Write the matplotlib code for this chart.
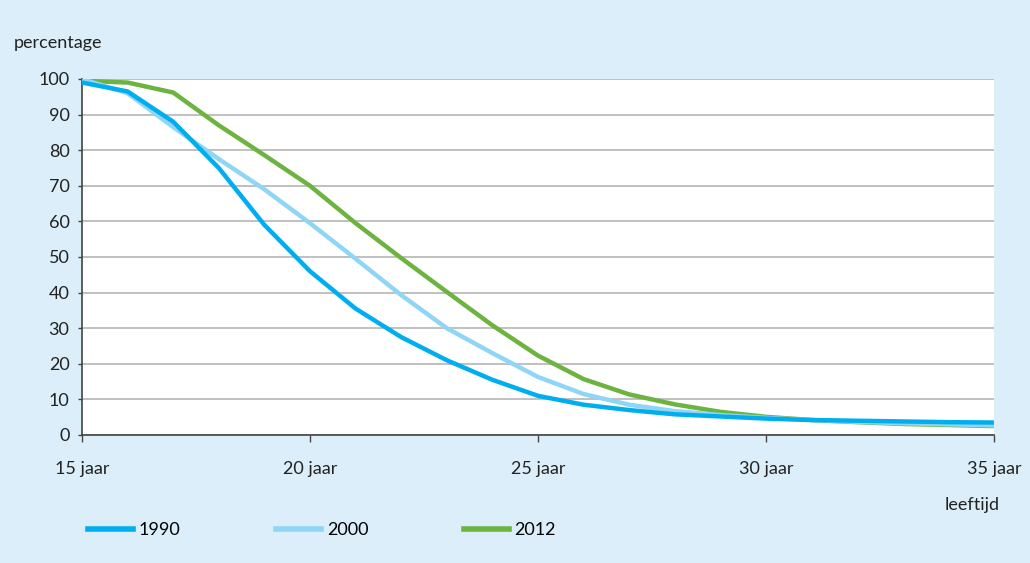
import matplotlib
matplotlib.use("Agg")
import matplotlib.pyplot as plt
from matplotlib.lines import Line2D

# leeftijd (jaren) en percentage per cohort
ages = list(range(15, 36))
pct_1990 = [99, 96.5, 88, 75, 59, 46, 35.5, 27.5, 21, 15.5, 11, 8.5, 7, 5.8, 5.2, 4.6, 4.2, 4.0, 3.8, 3.6, 3.5]
pct_2000 = [100, 96, 86.5, 77.5, 69, 59.5, 49.5, 39.3, 30, 23, 16.3, 11.5, 8.5, 6.7, 5.6, 4.8, 4.2, 3.7, 3.3, 3.0, 2.7]
pct_2012 = [99.5, 99, 96.2, 87, 78.6, 70, 59.5, 49.7, 40.2, 30.8, 22.3, 15.7, 11.4, 8.6, 6.5, 5.1, 4.2, 3.6, 3.1, 2.8, 2.5]

x_ticks = [15, 20, 25, 30, 35]
x_labels = ["15 jaar", "20 jaar", "25 jaar", "30 jaar", "35 jaar"]
series = [("1990", pct_1990, "#00aeef"), ("2000", pct_2000, "#8fd6f6"), ("2012", pct_2012, "#6cb33f")]

plt.rcParams['font.family'] = ['Lato', 'DejaVu Sans']
bg = "#dbeef9"
fs = 13

fig = plt.figure(figsize=(10.30, 5.63), dpi=100, facecolor=bg)
ax = fig.add_axes([0.0796, 0.2274, 0.8854, 0.6323])
ax.set_facecolor("white")

# 1990 on top
for name, vals, col in reversed(series):
    ax.plot(ages, vals, color=col, linewidth=3.2, solid_capstyle="butt", zorder=3)

ax.set_xlim(15, 35)
ax.set_ylim(0, 100)
ax.set_yticks(range(0, 101, 10))
ax.set_xticks(x_ticks)
ax.set_xticklabels(x_labels)
ax.tick_params(axis="both", labelsize=fs, colors="#222222", width=1, color="#444444")
ax.tick_params(axis="x", length=5, pad=14)
ax.tick_params(axis="y", length=3, pad=6)
ax.yaxis.grid(True, color="#b5b5b5", linewidth=1.2)
ax.set_axisbelow(True)
for s in ["top", "right"]:
    ax.spines[s].set_visible(False)
for s in ["left", "bottom"]:
    ax.spines[s].set_color("#444444")
    ax.spines[s].set_linewidth(1.2)

fig.text(14 / 1030, 1 - 43 / 563, "percentage", fontsize=fs, color="#222222", va="center")
fig.text(1000 / 1030, 1 - 505 / 563, "leeftijd", fontsize=fs, color="#222222", va="center", ha="right")

handles = [Line2D([0], [0], color=c, linewidth=4) for _, _, c in series]
leg = fig.legend(handles, [n for n, _, _ in series], loc="center left",
                 bbox_to_anchor=(72 / 1030, 1 - 530 / 563), ncol=3, frameon=False,
                 fontsize=fs, handlelength=2.5, handletextpad=0.3, columnspacing=5.3)

fig.savefig("out.png", dpi=100, facecolor=bg)
